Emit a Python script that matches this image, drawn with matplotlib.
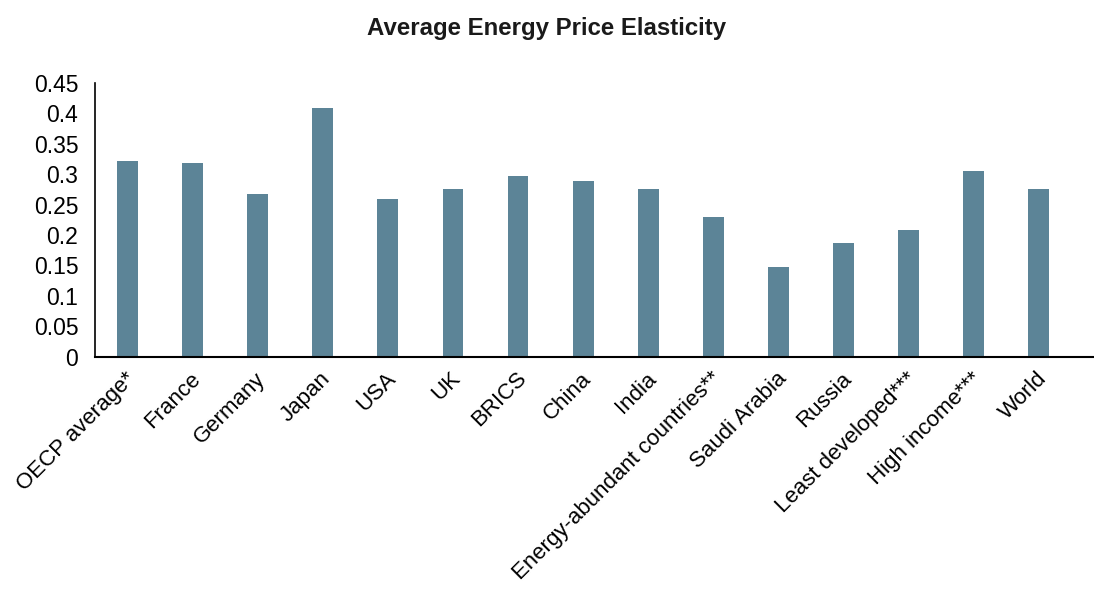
import matplotlib
matplotlib.use("Agg")
import matplotlib.pyplot as plt
import numpy as np

categories = ["OECP average*", "France", "Germany", "Japan", "USA", "UK", "BRICS",
              "China", "India", "Energy-abundant countries**", "Saudi Arabia",
              "Russia", "Least developed***", "High income***", "World"]
values = [0.321, 0.318, 0.267, 0.408, 0.259, 0.275, 0.297,
          0.289, 0.275, 0.230, 0.148, 0.187, 0.208, 0.305, 0.275]
yticks = [0, 0.05, 0.1, 0.15, 0.2, 0.25, 0.3, 0.35, 0.4, 0.45]
ytick_labels = ["0", "0.05", "0.1", "0.15", "0.2", "0.25", "0.3", "0.35", "0.4", "0.45"]

plt.rcParams['font.family'] = ['Liberation Sans', 'DejaVu Sans']

fig = plt.figure(figsize=(10.94, 5.90), dpi=100)
ax = fig.add_axes([0.0868, 0.395, 0.9132, 0.465])

x = np.arange(len(categories))
ax.bar(x, values, width=0.32, color="#5C8497")

ax.set_ylim(0, 0.45)
ax.set_xlim(-0.5, len(categories) - 0.5 + 0.35)
ax.set_yticks(yticks)
ax.set_yticklabels(ytick_labels, fontsize=16.5)
ax.set_xticks(x - 0.04)
ax.set_xticklabels(categories, rotation=45, ha="right", rotation_mode="anchor", fontsize=16)
ax.tick_params(axis="y", length=0, pad=12)
ax.tick_params(axis="x", length=0, pad=8)

for s in ["top", "right"]:
    ax.spines[s].set_visible(False)
ax.spines["left"].set_linewidth(1.2)
ax.spines["bottom"].set_linewidth(1.5)

fig.text(0.5, 0.952, "Average Energy Price Elasticity", ha="center", va="center",
         fontsize=17.3, fontweight="bold", color="#1a1a1a")

fig.savefig("out.png", dpi=100)
